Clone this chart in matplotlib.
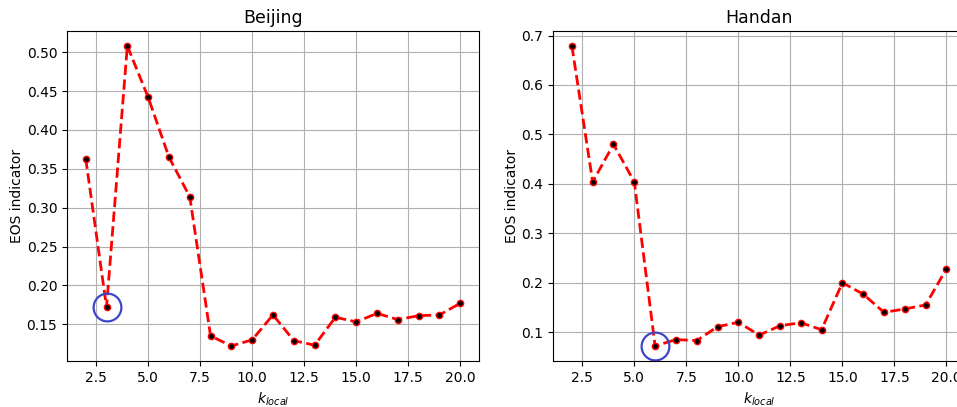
import matplotlib
matplotlib.use("Agg")
import matplotlib.pyplot as plt

k_local = list(range(2, 21))

beijing_eos = [0.363, 0.172, 0.508, 0.442, 0.365, 0.314, 0.135, 0.122, 0.130, 0.162,
               0.129, 0.123, 0.159, 0.153, 0.164, 0.156, 0.161, 0.162, 0.177]
handan_eos = [0.679, 0.404, 0.480, 0.404, 0.072, 0.085, 0.083, 0.111, 0.120, 0.094,
              0.113, 0.119, 0.105, 0.200, 0.177, 0.140, 0.147, 0.155, 0.228]

# chosen k for each city (circled)
beijing_best = 3
handan_best = 6

fig = plt.figure(figsize=(9.57, 4.07), dpi=100)
ax1 = fig.add_axes([0.070, 0.113, 0.4305, 0.811])
ax2 = fig.add_axes([0.578, 0.113, 0.4305, 0.811])

for ax, name, eos, best in [(ax1, "Beijing", beijing_eos, beijing_best),
                            (ax2, "Handan", handan_eos, handan_best)]:
    ax.plot(k_local, eos, "r--o", linewidth=2, markersize=4.5,
            markerfacecolor="k", markeredgecolor="r", markeredgewidth=1)
    ax.plot(best, eos[k_local.index(best)], "o", markersize=20,
            markerfacecolor="none", markeredgecolor="#3d46c8", markeredgewidth=1.6)
    ax.set_title(name, fontsize=12.5)
    ax.set_xlabel("$k_{local}$")
    ax.set_ylabel("EOS indicator", labelpad=1.5)
    ax.grid(True)

fig.savefig("out.png", dpi=100)
